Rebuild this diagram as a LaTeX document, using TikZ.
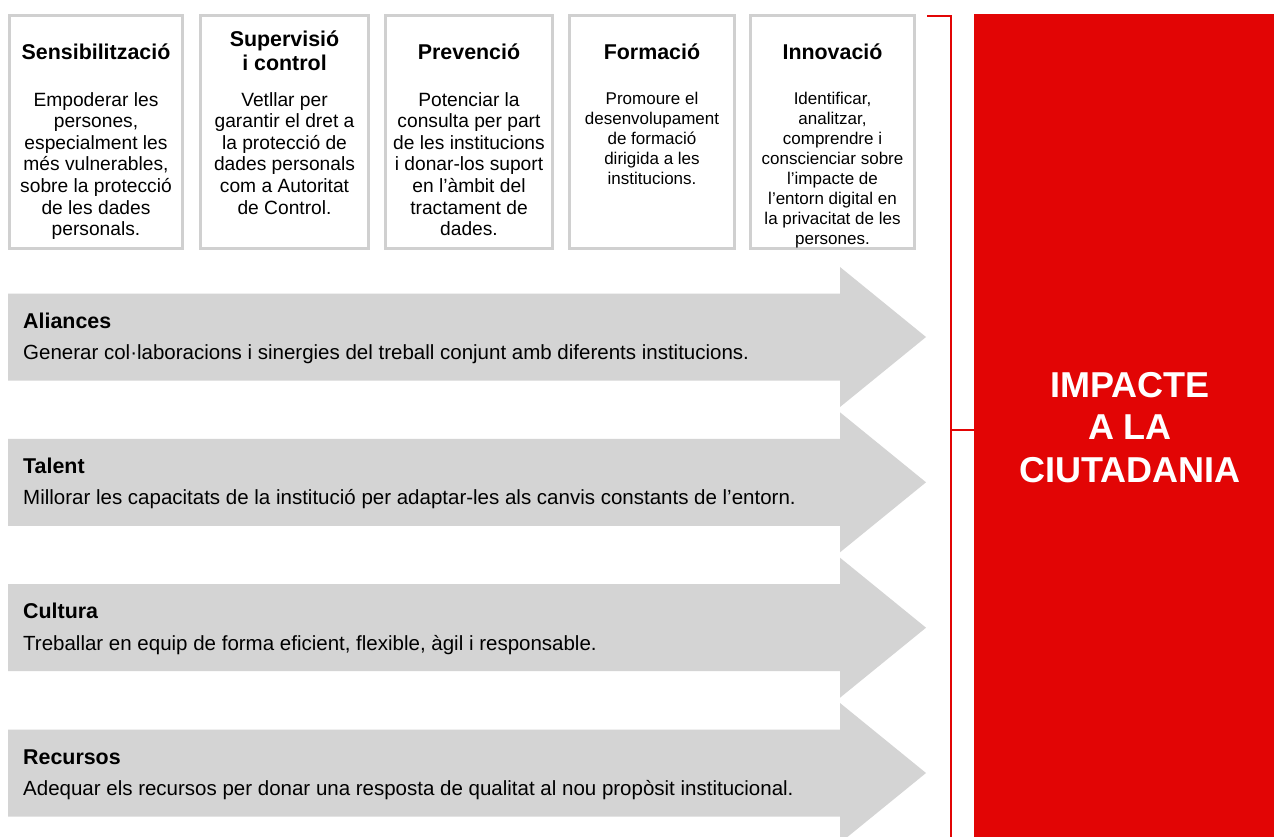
\documentclass[tikz,border=0pt]{standalone}
\usepackage{fontspec}
\setmainfont{Liberation Sans}
\definecolor{arrowgray}{RGB}{212,212,212}
\definecolor{boxgray}{RGB}{208,208,208}
\definecolor{impactred}{RGB}{226,5,5}
\tikzset{
  topbox/.style={draw=boxgray, line width=3pt, fill=white, inner sep=0pt},
  boxtitle/.style={anchor=base, inner sep=0pt, align=center, font=\bfseries\fontsize{21.4}{24}\selectfont},
  boxbody/.style={anchor=base, inner sep=0pt, align=center, font=\fontsize{19.2}{21.6}\selectfont},
  boxsmall/.style={anchor=base, inner sep=0pt, align=center, font=\fontsize{17}{20}\selectfont},
  arrowshape/.style={fill=arrowgray},
  arrtitle/.style={anchor=base west, inner sep=0pt, font=\bfseries\fontsize{21.4}{24}\selectfont},
  arrdesc/.style={anchor=base west, inner sep=0pt, font=\fontsize{20.5}{24}\selectfont},
  impactbox/.style={fill=impactred, inner sep=0pt, anchor=north west},
  impacttext/.style={anchor=base, inner sep=0pt, align=center, text=white, font=\bfseries\fontsize{36}{42.5}\selectfont},
  bracket/.style={draw=impactred, line width=2.5pt}
}
\begin{document}
\begin{tikzpicture}[x=1pt,y=-1pt]
\clip (0,0) rectangle (1274,836);
\fill[white] (0,0) rectangle (1274,836);

% top boxes
\node[topbox, minimum width=173, minimum height=233] (b1) at (96,132) {};
\node[topbox, minimum width=168, minimum height=233] (b2) at (284.5,132) {};
\node[topbox, minimum width=167, minimum height=233] (b3) at (469,132) {};
\node[topbox, minimum width=165, minimum height=233] (b4) at (652,132) {};
\node[topbox, minimum width=164, minimum height=233] (b5) at (832.5,132) {};

% (multi-line nodes: anchor=base is the baseline of the last line)
\node[boxtitle] (t1) at (96,59.5) {Sensibilització};
\node[boxbody] (d1) at (96,235.6) {Empoderar les\\persones,\\especialment les\\més vulnerables,\\sobre la protecció\\de les dades\\personals.};

\node[boxtitle] (t2) at (284.5,70.7) {Supervisió\\i control};
\node[boxbody] (d2) at (284.5,214) {Vetllar per\\garantir el dret a\\la protecció de\\dades personals\\com a Autoritat\\de Control.};

\node[boxtitle] (t3) at (469,59.5) {Prevenció};
\node[boxbody] (d3) at (469,235.6) {Potenciar la\\consulta per part\\de les institucions\\i donar-los suport\\en l’àmbit del\\tractament de\\dades.};

\node[boxtitle] (t4) at (652,59.5) {Formació};
\node[boxsmall] (d4) at (652,184) {Promoure el\\desenvolupament\\de formació\\dirigida a les\\institucions.};

\node[boxtitle] (t5) at (832.5,59.5) {Innovació};
\node[boxsmall] (d5) at (832.5,244) {Identificar,\\analitzar,\\comprendre i\\conscienciar sobre\\l’impacte de\\l’entorn digital en\\la privacitat de les\\persones.};

% arrows
\foreach \c in {337,482.3,627.7,773}{
  \fill[arrowshape] (8,\c-43.5) -- (840,\c-43.5) -- (840,\c-70) -- (926,\c) -- (840,\c+70) -- (840,\c+43.5) -- (8,\c+43.5) -- cycle;
}
\node[arrtitle] (a1t) at (23,328) {Aliances};
\node[arrdesc] (a1d) at (23,359.5) {Generar col·laboracions i sinergies del treball conjunt amb diferents institucions.};
\node[arrtitle] (a2t) at (23,473.3) {Talent};
\node[arrdesc] (a2d) at (23,504.8) {Millorar les capacitats de la institució per adaptar-les als canvis constants de l’entorn.};
\node[arrtitle] (a3t) at (23,618.7) {Cultura};
\node[arrdesc] (a3d) at (23,650.2) {Treballar en equip de forma eficient, flexible, àgil i responsable.};
\node[arrtitle] (a4t) at (23,764) {Recursos};
\node[arrdesc] (a4d) at (23,795.5) {Adequar els recursos per donar una resposta de qualitat al nou propòsit institucional.};

% impact box
\node[impactbox, minimum width=300, minimum height=823] (impact) at (974,13.5) {};
\node[impacttext] (impactlabel) at (1130,482) {IMPACTE\\A LA\\CIUTADANIA};

% bracket
\coordinate (brtop) at (927,16);
\coordinate (brcorner) at (951,16);
\coordinate (brbot) at (951,840);
\coordinate (brmid) at (951,430);
\draw[bracket] (brtop) -- (brcorner) -- (brbot);
\draw[bracket] (brmid) -- (impact.west |- brmid);
\end{tikzpicture}
\end{document}
